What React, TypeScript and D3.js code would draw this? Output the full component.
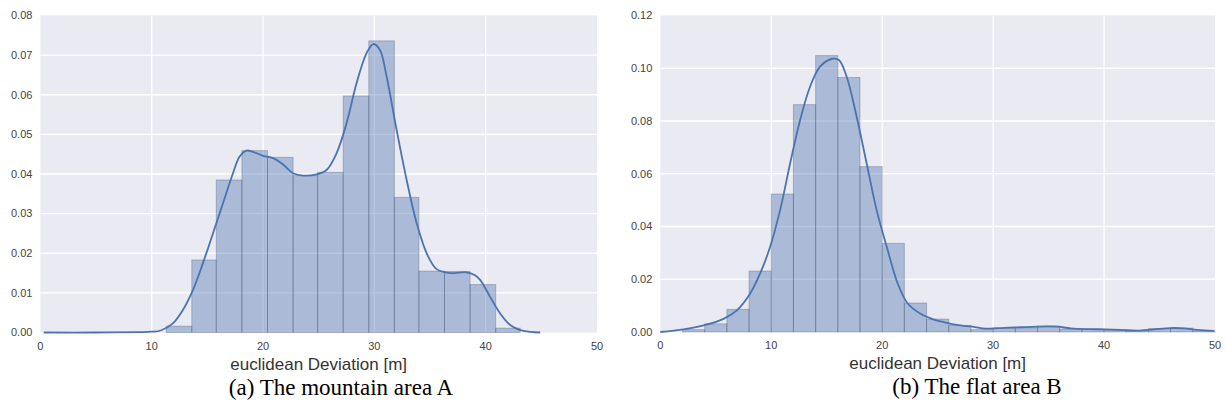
import React from 'react';
import * as d3 from 'd3';

// (a) mountain area A: histogram bin edges [m] and densities
const edgesA = [11.3, 13.6, 15.8, 18.1, 20.4, 22.7, 24.9, 27.2, 29.5, 31.8, 34.0, 36.3, 38.6, 40.9, 43.1];
const histA = [0.0016, 0.0183, 0.0385, 0.0459, 0.0442, 0.0396, 0.0404, 0.0597, 0.0736, 0.0341, 0.0155, 0.0154, 0.0121, 0.0011];
// kde curve (x, density)
const kdeXA = [0.3, 5, 9, 10, 10.8, 11.9, 12.8, 13.7, 14.6, 15.5, 16.4, 17.3, 17.9, 18.5, 19.1, 20.0, 20.9, 21.8, 22.7, 23.6,
  24.8, 25.7, 26.6, 27.5, 28.4, 29.3, 29.9, 30.5, 31.1, 32.0, 32.9, 33.8, 34.7, 35.6, 36.8, 38.3, 39.0, 39.5, 40.4, 41.3, 42.2, 43.4, 44.9];
const kdeYA = [0.0, 0.0, 0.0001, 0.0002, 0.0005, 0.0023, 0.0057, 0.0107, 0.0175, 0.025, 0.0326, 0.0402, 0.0444, 0.0459, 0.0456, 0.0446, 0.044, 0.0424, 0.0402, 0.0396,
  0.0399, 0.041, 0.0452, 0.0528, 0.0629, 0.0705, 0.0728, 0.0713, 0.0646, 0.0511, 0.0385, 0.0276, 0.0200, 0.0160, 0.0150, 0.0152, 0.0145, 0.0133, 0.009, 0.0048, 0.0019, 0.0004, 0.0];

// (b) flat area B
const edgesB = [2, 4, 6, 8, 10, 12, 14, 16, 18, 20, 22, 24, 26, 28, 30, 32, 34, 36, 38, 40, 42, 44, 46, 48, 50];
const histB = [0.0009, 0.0031, 0.0086, 0.0231, 0.0523, 0.0862, 0.1048, 0.0965, 0.0627, 0.0336, 0.011, 0.0049,
  0.0025, 0.0009, 0.0015, 0.0016, 0.0022, 0.0011, 0.0011, 0.0008, 0.0003, 0.0013, 0.0015, 0.0005];
const kdeXB = [0, 2.1, 3.9, 5.7, 6.9, 8.1, 9.0, 9.9, 10.8, 11.7, 12.6, 13.5, 14.4, 15.5, 16.1, 16.8, 17.7, 18.6, 19.5, 20.5,
  21.4, 22.3, 23.5, 24.6, 25.5, 26.3, 27.2, 28.1, 29.0, 29.8, 31.0, 32.5, 34.0, 34.9, 35.8, 37.0, 38.5, 40.0, 41.5, 43.0, 44.5, 46.0, 47.2, 48.4, 49.9];
const kdeYB = [0.0, 0.001, 0.0025, 0.005, 0.0082, 0.0146, 0.0222, 0.0323, 0.0462, 0.0639, 0.0803, 0.093, 0.1006, 0.1036, 0.1031, 0.0968, 0.0816, 0.0639, 0.0462, 0.031,
  0.0184, 0.0108, 0.0068, 0.0048, 0.0038, 0.003, 0.0024, 0.002, 0.0014, 0.0013, 0.0016, 0.0018, 0.002, 0.0021, 0.002, 0.0014, 0.0011, 0.001, 0.0008, 0.0005, 0.001, 0.0015, 0.0014, 0.0008, 0.0004];

const xTicks = [0, 10, 20, 30, 40, 50];
const yTicksA = [0, 0.01, 0.02, 0.03, 0.04, 0.05, 0.06, 0.07, 0.08];
const yTicksB = [0, 0.02, 0.04, 0.06, 0.08, 0.10, 0.12];

const xLabel = 'euclidean Deviation [m]';
const captionA = '(a) The mountain area A';
const captionB = '(b) The flat area B';

const BLUE = '#4C72B0';
const SANS = '"Liberation Sans", Arial, sans-serif';

type PanelProps = {
  left: number; right: number; top: number; bottom: number;
  edges: number[]; hist: number[]; kx: number[]; ky: number[];
  yTicks: number[]; yFmt: string; caption: string; captionX: number;
};

const Panel = ({ left, right, top, bottom, edges, hist, kx, ky, yTicks, yFmt, caption, captionX }: PanelProps) => {
  const x = d3.scaleLinear().domain([0, 50]).range([left, right]);
  const y = d3.scaleLinear().domain([0, yTicks[yTicks.length - 1]]).range([bottom, top]);
  const fmt = d3.format(yFmt);
  const line = d3.line<number>()
    .x((_, i) => x(kx[i]))
    .y(d => y(d))
    .curve(d3.curveCatmullRom.alpha(0.5));

  return (
    <g>
      <rect x={left} y={top} width={right - left} height={bottom - top} fill="#EAEAF2" />
      {xTicks.slice(1, -1).map(t => (
        <line key={'gx' + t} x1={x(t)} x2={x(t)} y1={top} y2={bottom} stroke="#fff" strokeWidth={1.3} />
      ))}
      {yTicks.slice(1, -1).map(t => (
        <line key={'gy' + t} x1={left} x2={right} y1={y(t)} y2={y(t)} stroke="#fff" strokeWidth={1.3} />
      ))}
      {hist.map((v, i) => (
        <rect key={'b' + i} x={x(edges[i])} y={y(v)} width={x(edges[i + 1]) - x(edges[i])} height={y(0) - y(v)}
          fill={BLUE} fillOpacity={0.4} stroke="#3a4a66" strokeOpacity={0.3} strokeWidth={1} />
      ))}
      <path d={line(ky) || ''} fill="none" stroke={BLUE} strokeWidth={1.8} />
      {yTicks.map(t => (
        <text key={'ty' + t} x={left - 8} y={y(t)} dy="0.35em" textAnchor="end" fontSize={11} fill="#444" fontFamily={SANS}>
          {fmt(t)}
        </text>
      ))}
      {xTicks.map(t => (
        <text key={'tx' + t} x={x(t)} y={bottom + 17} textAnchor="middle" fontSize={11} fill="#444" fontFamily={SANS}>
          {t}
        </text>
      ))}
      <text x={(left + right) / 2} y={bottom + 37} textAnchor="middle" fontSize={17} fill="#333" fontFamily={SANS}>
        {xLabel}
      </text>
      <text x={captionX} y={bottom + 62} textAnchor="middle" fontSize={23} fill="#000"
        fontFamily='"Liberation Serif", "Times New Roman", serif'>
        {caption}
      </text>
    </g>
  );
};

export default function App() {
  return (
    <svg width={1226} height={415} style={{ position: 'absolute', left: 0, top: 0, background: '#fff' }}>
      <Panel left={40.4} right={597} top={15.5} bottom={332.5} edges={edgesA} hist={histA} kx={kdeXA} ky={kdeYA}
        yTicks={yTicksA} yFmt=".2f" caption={captionA} captionX={341} />
      <Panel left={660.3} right={1215} top={15.5} bottom={332} edges={edgesB} hist={histB} kx={kdeXB} ky={kdeYB}
        yTicks={yTicksB} yFmt=".2f" caption={captionB} captionX={977} />
    </svg>
  );
}
